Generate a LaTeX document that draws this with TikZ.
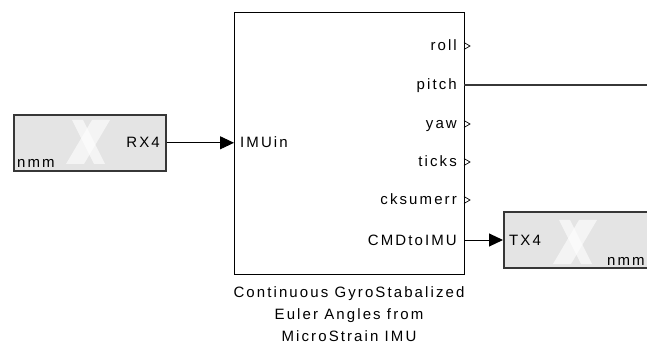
\documentclass[tikz,border=0pt]{standalone}
\usepackage{fontspec}
\setmainfont{Liberation Sans}[LetterSpace=14]
\usetikzlibrary{arrows.meta}
\definecolor{blockgray}{RGB}{228,228,228}
\definecolor{edgegray}{RGB}{55,55,55}

% faint logo inside the gray I/O blocks
\newcommand{\xlogo}[1]{%
  \fill[white, opacity=0.6, shift={(#1)}] (4,-22) -- (22,-22) -- (-4,22) -- (-22,22) -- cycle;
  \fill[white, opacity=0.6, shift={(#1)}] (-16,-22) -- (-5,-22) -- (17,22) -- (6,22) -- cycle;
}

\begin{document}
\begin{tikzpicture}[x=1pt, y=-1pt,
    every node/.style={font=\fontsize{15}{22}\selectfont, inner sep=0pt},
    ioblock/.style={draw=edgegray, line width=1.6pt, fill=blockgray, anchor=north west, minimum height=56pt},
    sig/.style={-{Triangle[length=14pt,width=13pt]}, line width=1pt},
    portlabel/.style={anchor=base east}]
  \useasboundingbox (0,0) rectangle (647,347);
  \clip (0,0) rectangle (647,347);

  % Blocks
  \node[ioblock, minimum width=152pt] (rx) at (13,114) {};
  \node[ioblock, minimum width=170pt] (tx) at (503,211) {};
  \xlogo{88,142}
  \xlogo{575,242}
  \node[draw, line width=1pt, anchor=north west, minimum width=230pt, minimum height=262pt] (imu) at (234,12) {};

  % Block texts
  \node[anchor=base east] (rxname) at (160,148) {RX4};
  \node[anchor=base west] (rxlib) at (17,168) {nmm};
  \node[anchor=base west] (txname) at (509,245) {TX4};
  \node[anchor=base west] (txlib) at (607,265) {nmm};
  \node[anchor=base west] (imuin) at (240,148) {IMUin};
  \node[anchor=north, align=center] (caption) at (349,286) {Continuous GyroStabalized\\Euler Angles from\\MicroStrain IMU};

  % Output ports
  \coordinate (roll) at (464,46);
  \coordinate (pitch) at (464,85);
  \coordinate (yaw) at (464,124);
  \coordinate (ticks) at (464,162);
  \coordinate (cksumerr) at (464,200);
  \coordinate (cmd) at (464,240);
  \coordinate (pitchend) at (647,85);
  \node[portlabel] (rolllbl) at (457,51) {roll};
  \node[portlabel] (pitchlbl) at (457,90) {pitch};
  \node[portlabel] (yawlbl) at (457,129) {yaw};
  \node[portlabel] (tickslbl) at (457,167) {ticks};
  \node[portlabel] (cksumerrlbl) at (457,205) {cksumerr};
  \node[portlabel] (cmdlbl) at (457,245) {CMDtoIMU};

  % Unconnected outputs
  \draw[line width=0.7pt] ([yshift=3.5pt]roll) -- ++(6,3.5) -- ++(-6,3.5);
  \draw[line width=0.7pt] ([yshift=3.5pt]yaw) -- ++(6,3.5) -- ++(-6,3.5);
  \draw[line width=0.7pt] ([yshift=3.5pt]ticks) -- ++(6,3.5) -- ++(-6,3.5);
  \draw[line width=0.7pt] ([yshift=3.5pt]cksumerr) -- ++(6,3.5) -- ++(-6,3.5);

  % Signals
  \draw[sig] (rx.east) -- (rx.east -| imu.west);
  \draw[sig] (cmd) -- (cmd -| tx.west);
  \draw[line width=1.5pt, edgegray] (pitch) -- (pitchend);
\end{tikzpicture}
\end{document}
